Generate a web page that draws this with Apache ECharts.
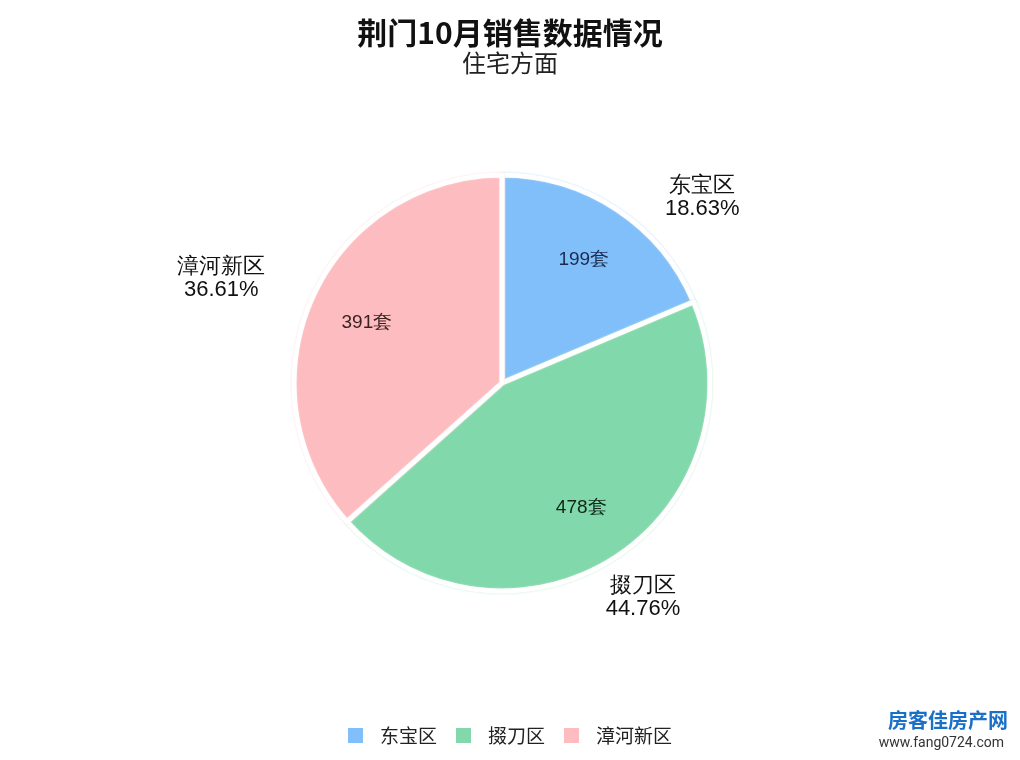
<!DOCTYPE html>
<html><head><meta charset="utf-8">
<script src="https://cdn.jsdelivr.net/npm/echarts@6/dist/echarts.min.js"></script>
<style>html,body{margin:0;padding:0;background:#fff}#c{width:1020px;height:760px}</style>
</head><body><div id="c"></div>
<script>
const categories = ['东宝区', '掇刀区', '漳河新区'];
const values = [199, 478, 391];
const colors = ['#80bff9', '#80d8ab', '#fdbcbf'];
const outlineColors = ['#b9dbfc', '#bfeacf', '#fdd9da'];
const innerLabelColors = ['#1b2b4f', '#10261a', '#3a2222'];
const titleText = '荆门10月销售数据情况';
const subtitleText = '住宅方面';
const unit = '套';
// hidden leader lengths used only to place the outside labels
const leaderLen = [15, 46, 48];
const leaderLen2 = [72, 0, 42];

const total = values.reduce((a, b) => a + b, 0);
const CENTER = [502, 383];
const R = 208;

const chart = echarts.init(document.getElementById('c'));
chart.setOption({
  backgroundColor: '#ffffff',
  color: colors,
  title: {
    text: titleText, subtext: subtitleText, left: 'center', top: 13, itemGap: 3,
    textStyle: { fontFamily: 'Noto Sans CJK SC', fontSize: 30, fontWeight: 'bold', color: '#111' },
    subtextStyle: { fontFamily: 'Noto Sans CJK SC', fontSize: 24, color: '#222' }
  },
  legend: {
    bottom: 10, left: 'center', icon: 'rect', itemWidth: 15, itemHeight: 15, itemGap: 19,
    data: categories,
    itemStyle: { borderWidth: 0, shadowBlur: 0 },
    textStyle: { fontFamily: 'Noto Sans CJK SC', fontSize: 19, color: '#222', padding: [0, 0, 0, 12] }
  },
  graphic: [
    { type: 'text', right: 12, bottom: 30, style: { text: '房客佳房产网', fill: '#1a6fc9', font: 'bold 20px "Noto Sans CJK SC"' } },
    { type: 'text', right: 16, bottom: 10, style: { text: 'www.fang0724.com', fill: '#333', font: '14px Roboto' } }
  ],
  series: [
    {
      type: 'pie', center: CENTER, radius: [0, R], startAngle: 90, clockwise: true,
      itemStyle: { borderWidth: 5, borderColor: '#ffffff', shadowBlur: 2 },
      label: {
        show: true, position: 'outside', fontFamily: 'Liberation Sans', fontSize: 22, color: '#111',
        lineHeight: 23,
        formatter: p => p.name + '\n' + (p.value / total * 100).toFixed(2) + '%'
      },
      labelLayout: { align: 'center' },
      emphasis: { disabled: true },
      data: categories.map((n, i) => ({
        name: n, value: values[i],
        itemStyle: { color: colors[i], shadowColor: outlineColors[i] },
        labelLine: { show: false, length: leaderLen[i], length2: leaderLen2[i] }
      }))
    },
    {
      type: 'pie', center: CENTER, radius: [0, 290], startAngle: 90, clockwise: true,
      silent: true, legendHoverLink: false,
      itemStyle: { color: 'rgba(0,0,0,0)' },
      label: {
        show: true, position: 'inside', fontFamily: 'Liberation Sans', fontSize: 19,
        formatter: p => p.value + unit
      },
      labelLine: { show: false },
      emphasis: { disabled: true },
      data: categories.map((n, i) => ({
        name: n, value: values[i],
        label: { color: innerLabelColors[i] }
      }))
    }
  ]
});
</script></body></html>
